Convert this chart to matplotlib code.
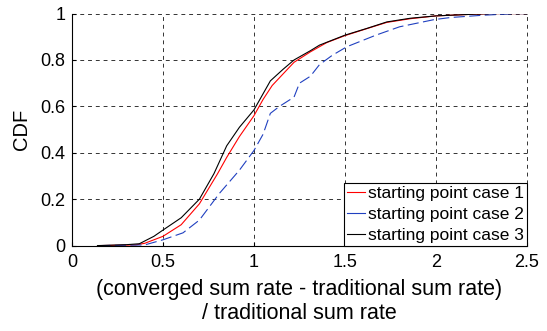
import matplotlib.pyplot as plt

plt.rcParams['font.family'] = ['Liberation Sans', 'DejaVu Sans']

# case 1 (red)
x1 = [0.15, 0.35, 0.40, 0.50, 0.60, 0.70, 0.80, 0.85, 0.92, 1.00, 1.05, 1.10, 1.16, 1.22,
      1.31, 1.40, 1.50, 1.62, 1.73, 1.86, 2.00, 2.20, 2.30, 2.50]
y1 = [0.0, 0.003, 0.01, 0.04, 0.09, 0.18, 0.31, 0.38, 0.47, 0.56, 0.63, 0.69, 0.74, 0.79,
      0.835, 0.875, 0.905, 0.935, 0.962, 0.978, 0.99, 0.997, 1.0, 1.0]

# case 2 (blue, dashed)
x2 = [0.15, 0.40, 0.50, 0.61, 0.70, 0.81, 0.92, 1.00, 1.05, 1.09, 1.14, 1.22, 1.25,
      1.31, 1.36, 1.43, 1.51, 1.67, 1.80, 1.99, 2.08, 2.26, 2.45, 2.50]
y2 = [0.0, 0.003, 0.025, 0.055, 0.11, 0.225, 0.325, 0.41, 0.48, 0.57, 0.60, 0.64, 0.70,
      0.73, 0.78, 0.82, 0.857, 0.907, 0.943, 0.974, 0.983, 0.993, 1.0, 1.0]

# case 3 (black)
x3 = [0.14, 0.30, 0.37, 0.45, 0.50, 0.60, 0.70, 0.78, 0.85, 0.92, 1.00, 1.09, 1.16, 1.22,
      1.31, 1.36, 1.50, 1.62, 1.73, 1.86, 2.00, 2.20, 2.30, 2.50]
y3 = [0.0, 0.004, 0.008, 0.04, 0.067, 0.12, 0.20, 0.31, 0.43, 0.51, 0.585, 0.71, 0.76, 0.80,
      0.84, 0.864, 0.907, 0.936, 0.964, 0.98, 0.99, 0.997, 1.0, 1.0]

labels = ['starting point case 1', 'starting point case 2', 'starting point case 3']

fig = plt.figure(figsize=(5.47, 3.31), dpi=100)
ax = fig.add_axes([0.1316, 0.258, 0.8318, 0.701])

ax.plot(x1, y1, color='#ff0000', lw=0.8, label=labels[0])
ax.plot(x2, y2, color='#2040c0', lw=0.8, dashes=(10, 4), label=labels[1])
ax.plot(x3, y3, color='black', lw=0.8, label=labels[2])

ax.set_xlim(0, 2.5)
ax.set_ylim(0, 1)
ax.set_xticks([0, 0.5, 1, 1.5, 2, 2.5])
ax.set_xticklabels(['0', '0.5', '1', '1.5', '2', '2.5'])
ax.set_yticks([0, 0.2, 0.4, 0.6, 0.8, 1])
ax.set_yticklabels(['0', '0.2', '0.4', '0.6', '0.8', '1'])
ax.tick_params(direction='in', labelsize=13, length=3)
ax.tick_params(axis='x', pad=6)
ax.tick_params(axis='y', pad=4.5)
ax.spines['top'].set_visible(False)
ax.spines['right'].set_visible(False)
ax.grid(True, color='#333333', ls=(0, (4, 4)), lw=0.7)
for gl in ax.get_xgridlines() + ax.get_ygridlines():
    gl.set_clip_on(False)

ax.set_ylabel('CDF', fontsize=14.5, labelpad=7)
ax.set_xlabel('(converged sum rate - traditional sum rate)\n/ traditional sum rate',
              fontsize=15.5, linespacing=1.15, labelpad=6)

leg = ax.legend(loc='lower right', fontsize=12.5, handlelength=1.05, handletextpad=0.17,
                borderaxespad=0, borderpad=0.17, labelspacing=0.32, fancybox=False,
                framealpha=1, edgecolor='black')
leg.get_frame().set_linewidth(0.8)
leg.get_lines()[1].set_linestyle('-')

fig.savefig('out.png', dpi=100)
